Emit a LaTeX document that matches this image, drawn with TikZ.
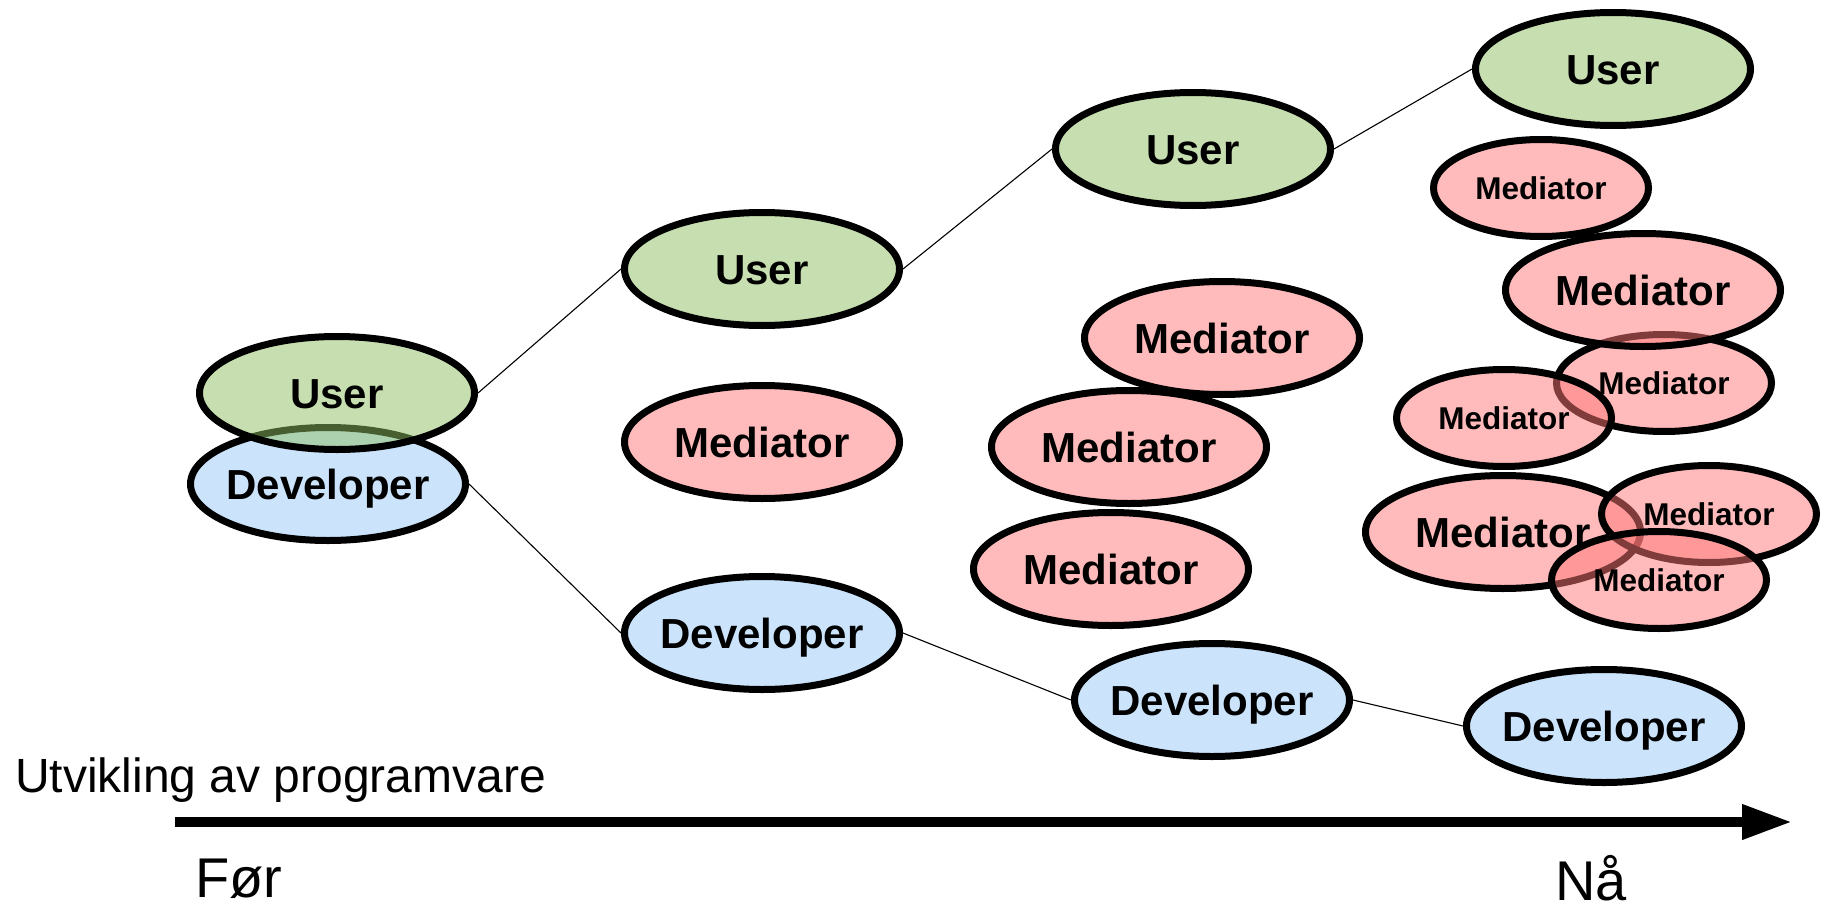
\documentclass[tikz,border=0pt]{standalone}
\usepackage{fontspec}
\setmainfont{Liberation Sans}
\usetikzlibrary{shapes.geometric,arrows.meta}
\definecolor{usergreen}{RGB}{143,191,97}
\definecolor{devblue}{RGB}{151,201,249}
\definecolor{medpink}{RGB}{255,119,119}
\newcommand{\lbl}[1]{\makebox[0pt]{\smash{\raisebox{-0.358em}{#1}}}}
\tikzset{
  ell/.style={ellipse, draw=black, line width=7pt, fill opacity=0.5, draw opacity=1, text opacity=1, inner sep=0pt},
  big/.style={ell, minimum width=275pt, minimum height=113pt, font=\bfseries\fontsize{42}{42}\selectfont},
  small/.style={ell, minimum width=215pt, minimum height=97pt, font=\bfseries\fontsize{31.5}{32}\selectfont},
  usr/.style={fill=usergreen},
  dev/.style={fill=devblue},
  med/.style={fill=medpink},
  conn/.style={line width=1.1pt, draw=black},
  caption/.style={anchor=base west, inner sep=0pt}
}
\begin{document}
\begin{tikzpicture}[x=1pt,y=-1pt]
\useasboundingbox (0,0) rectangle (1821,907);
% column 1
\node[big,dev] (dL) at (328,484) {\lbl{Developer}};
\node[big,usr] (uL) at (337,393) {\lbl{User}};
% column 2
\node[big,usr] (u2) at (762,269) {\lbl{User}};
\node[big,med] (m2) at (762,442) {\lbl{Mediator}};
\node[big,dev] (d2) at (762,633) {\lbl{Developer}};
% column 3
\node[big,usr] (u3) at (1193,149) {\lbl{User}};
\node[big,med] (m3a) at (1222,338) {\lbl{Mediator}};
\node[big,med] (m3b) at (1129,447) {\lbl{Mediator}};
\node[big,med] (m3c) at (1111,569) {\lbl{Mediator}};
\node[big,dev] (d3) at (1212,700) {\lbl{Developer}};
% column 4
\node[big,usr] (u4) at (1613,69) {\lbl{User}};
\node[small,med] (m4a) at (1541,188) {\lbl{Mediator}};
\node[small,med] (m4c) at (1664,383) {\lbl{Mediator}};
\node[big,med] (m4b) at (1643,290) {\lbl{Mediator}};
\node[small,med] (m4d) at (1504,418) {\lbl{Mediator}};
\node[big,med] (m4e) at (1503,532) {\lbl{Mediator}};
\node[small,med] (m4f) at (1709,514) {\lbl{Mediator}};
\node[small,med] (m4g) at (1659,580) {\lbl{Mediator}};
\node[big,dev] (d4) at (1604,726) {\lbl{Developer}};
% connectors
\draw[conn] (uL.east) -- (u2.west);
\draw[conn] (u2.east) -- (u3.west);
\draw[conn] (u3.east) -- (u4.west);
\draw[conn] (dL.east) -- (d2.west);
\draw[conn] (d2.east) -- (d3.west);
\draw[conn] (d3.east) -- (d4.west);
% time axis
\node[caption, font=\fontsize{48}{48}\selectfont] (title) at (15,792) {Utvikling av programvare};
\coordinate (axstart) at (175,822);
\coordinate (axend) at (1792,822);
\draw[line width=10pt, -{Triangle[length=50pt,width=33pt]}] (axstart) -- (axend);
\node[caption, font=\fontsize{56}{56}\selectfont] (before) at (195,897) {Før};
\node[caption, font=\fontsize{56}{56}\selectfont] (now) at (1555,900) {Nå};
\end{tikzpicture}
\end{document}
